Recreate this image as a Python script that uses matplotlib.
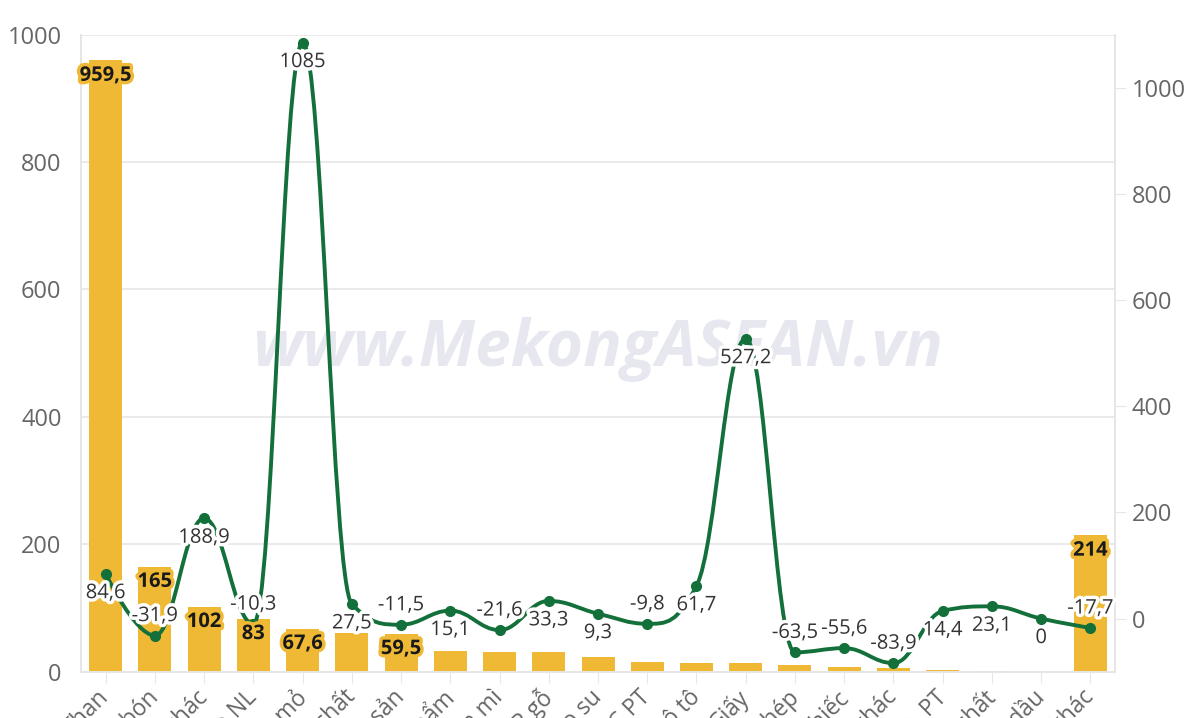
import matplotlib
matplotlib.use('Agg')
import matplotlib.pyplot as plt
from matplotlib.path import Path
from matplotlib.patches import PathPatch
import matplotlib.patheffects as pe
import numpy as np

plt.rcParams['font.family'] = ['Open Sans', 'DejaVu Sans']

categories = ['Than', 'Phân bón', 'Quặng và khoáng sản khác', 'Chất dẻo NL',
              'Sản phẩm từ dầu mỏ', 'Hóa chất', 'Hàng thủy sản', 'Dược phẩm',
              'Lúa mì', 'Gỗ và SP gỗ', 'Cao su', 'Máy móc, TB, DC PT',
              'Linh kiện, PT ô tô', 'Giấy', 'Sắt thép', 'Ô tô nguyên chiếc',
              'Kim loại thường khác', 'Phương tiện vận tải khác, PT',
              'Sản phẩm hóa chất', 'Xăng dầu', 'Hàng hóa khác']
# kim ngạch (triệu USD) - cột
values = [959.5, 165, 102, 83, 67.6, 61, 59.5, 32, 31, 31, 22.5, 14.6,
          14, 14, 11, 6.8, 5.2, 2, 1, 0, 214]
bar_labels = ['959,5', '165', '102', '83', '67,6', None, '59,5', None, None,
              None, None, None, None, None, None, None, None, None, None,
              None, '214']
# tăng/giảm (%) - đường
growth = [84.6, -31.9, 188.9, -10.3, 1085, 27.5, -11.5, 15.1, -21.6, 33.3,
          9.3, -9.8, 61.7, 527.2, -63.5, -55.6, -83.9, 14.4, 23.1, 0, -17.7]
growth_labels = ['84,6', '-31,9', '188,9', '-10,3', '1085', '27,5', '-11,5',
                 '15,1', '-21,6', '33,3', '9,3', '-9,8', '61,7', '527,2',
                 '-63,5', '-55,6', '-83,9', '14,4', '23,1', '0', '-17,7']

bar_color = '#EFB935'
line_color = '#13703A'
grid_color = '#E6E6E6'
tick_color = '#666666'


def spline_path(xs, ys, smoothing=1.5):
    # highcharts-style spline
    n = len(xs)
    rc = [None] * n
    lc = [None] * n
    verts = [(xs[0], ys[0])]
    codes = [Path.MOVETO]
    denom = smoothing + 1
    for i in range(1, n - 1):
        x, y = xs[i], ys[i]
        lx, ly = xs[i - 1], ys[i - 1]
        nx, ny = xs[i + 1], ys[i + 1]
        lcx = (smoothing * x + lx) / denom
        lcy = (smoothing * y + ly) / denom
        rcx = (smoothing * x + nx) / denom
        rcy = (smoothing * y + ny) / denom
        corr = (rcy - lcy) * (rcx - x) / (rcx - lcx) + y - rcy
        lcy += corr
        rcy += corr
        if lcy > ly and lcy > y:
            lcy = max(ly, y)
            rcy = 2 * y - lcy
        elif lcy < ly and lcy < y:
            lcy = min(ly, y)
            rcy = 2 * y - lcy
        if rcy > ny and rcy > y:
            rcy = max(ny, y)
            lcy = 2 * y - rcy
        elif rcy < ny and rcy < y:
            rcy = min(ny, y)
            lcy = 2 * y - rcy
        lc[i] = (lcx, lcy)
        rc[i] = (rcx, rcy)
    for i in range(1, n):
        c1 = rc[i - 1] if rc[i - 1] else (xs[i - 1], ys[i - 1])
        c2 = lc[i] if lc[i] else (xs[i], ys[i])
        verts += [c1, c2, (xs[i], ys[i])]
        codes += [Path.CURVE4] * 3
    return Path(verts, codes)


fig = plt.figure(figsize=(12, 7.18), dpi=100)
ax = fig.add_axes([0.0675, 0.0645, 0.8617, 0.8872])
ax2 = ax.twinx()

x = np.arange(len(categories))
ax.bar(x, values, width=0.67, color=bar_color, zorder=2)

ax.set_xlim(-0.5, len(categories) - 0.5)
ax.set_ylim(0, 1000)
ax.set_yticks([0, 200, 400, 600, 800, 1000])
ax.grid(axis='y', color=grid_color, linewidth=1.2, zorder=0)
ax.set_xticks(x)
ax.set_xticklabels(categories, rotation=45, ha='right', va='center',
                   rotation_mode='anchor', fontsize=16.5, color=tick_color)
ax.tick_params(axis='x', length=8, color=grid_color, pad=8)
ax.tick_params(axis='y', length=0, pad=14, labelsize=17, labelcolor=tick_color)

ax2.set_ylim(-100, 1100)
ax2.set_yticks([0, 200, 400, 600, 800, 1000])
ax2.tick_params(axis='y', length=8, color=grid_color, pad=4, labelsize=17,
                labelcolor=tick_color)

for a in (ax, ax2):
    a.spines['top'].set_visible(False)
    for s in ('left', 'right', 'bottom'):
        a.spines[s].set_color(grid_color)
        a.spines[s].set_linewidth(1.2)

ax.text(0.5, 0.505, 'www.MekongASEAN.vn', transform=ax.transAxes,
        fontsize=46, fontweight='bold', fontstyle='italic', color='#E7E7F0',
        ha='center', va='center', zorder=1)

path = spline_path(list(x.astype(float)), growth)
ax2.add_patch(PathPatch(path, facecolor='none', edgecolor=line_color,
                        linewidth=2.8, zorder=3, capstyle='round', joinstyle='round'))
ax2.plot(x, growth, 'o', color=line_color, markersize=7, zorder=4)

for xi, v, lab in zip(x, growth, growth_labels):
    off = 14 if v < 0 else -14
    ax2.annotate(lab, (xi, v), xytext=(0, off), textcoords='offset points',
                 ha='center', va='center', fontsize=14.5, color='#333333',
                 zorder=6, path_effects=[pe.withStroke(linewidth=5, foreground='white')])

for xi, v, lab in zip(x, values, bar_labels):
    if lab is None:
        continue
    ax2.annotate(lab, (xi, v), xycoords=ax.transData, xytext=(0, -11),
                 textcoords='offset points', ha='center', va='center',
                 fontsize=14.5, fontweight='bold', color='#1a1a1a', zorder=7,
                 path_effects=[pe.withStroke(linewidth=5, foreground=bar_color)])

fig.savefig('out.png', dpi=100)
